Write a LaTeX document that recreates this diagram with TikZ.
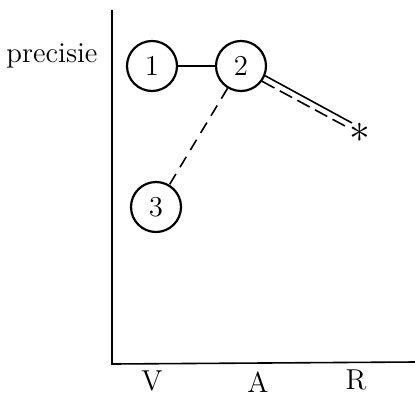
\documentclass[tikz,border=0pt]{standalone}
\usetikzlibrary{calc}
\begin{document}
\begin{tikzpicture}[x=0.5pt, y=-0.5pt, font=\Large,
    stap/.style={draw, line width=1.1pt, circle, minimum size=25pt, inner sep=0pt}]
    \useasboundingbox (0,0) rectangle (415,395);

    % assen
    \coordinate (top) at (112, 10);
    \coordinate (O) at (112, 364);
    \coordinate (end) at (415, 362);
    \draw[thick] (top) -- (O) -- (end);

    % labels
    \node (precisie) at (52, 56) {precisie};
    \node (V) at (152, 381) {V};
    \node (A) at (258, 382) {A};
    \node (R) at (356, 380) {R};

    % stappen
    \node[stap] (s1) at (152, 66) {1};
    \node[stap] (s2) at (241, 66) {2};
    \node[stap] (s3) at (156, 207) {3};
    \node[inner sep=0pt, font=\huge] (ster) at (360, 133) {$\ast$};

    % verbindingen
    \draw[thick] (s1) -- (s2);
    \draw[thick, dash pattern=on 6pt off 4pt] (s2) -- (s3);

    % dubbele lijn naar ster
    \coordinate (e1) at (352, 123);
    \coordinate (e2) at (345, 126);
    \draw[thick] (s2.-22) -- (e1);
    \draw[thick, dash pattern=on 7pt off 3pt] (s2.-36) -- (e2);
\end{tikzpicture}
\end{document}
